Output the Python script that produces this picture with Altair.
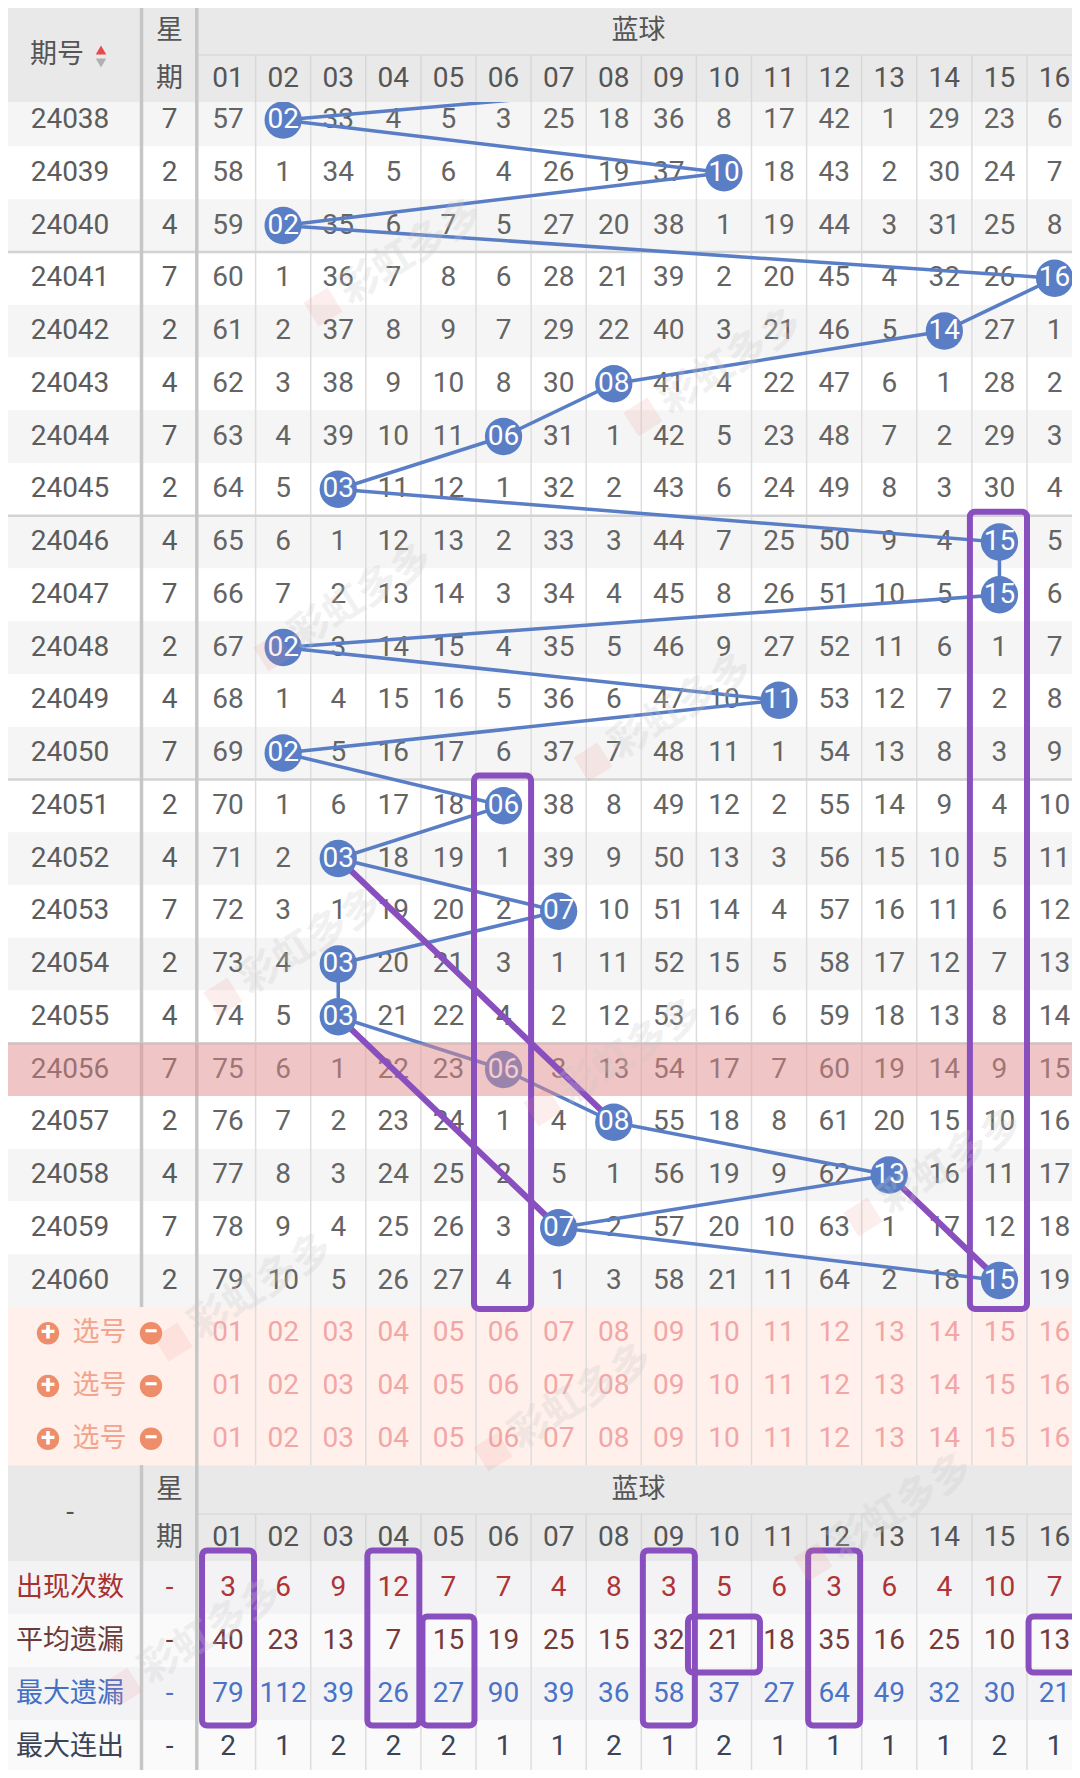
import altair as alt
import pandas as pd

# ---------------- data ----------------
periods = ["24038", "24039", "24040", "24041", "24042", "24043", "24044", "24045",
           "24046", "24047", "24048", "24049", "24050", "24051", "24052", "24053",
           "24054", "24055", "24056", "24057", "24058", "24059", "24060"]
weekdays = [7, 2, 4, 7, 2, 4, 7, 2, 4, 7, 2, 4, 7, 2, 4, 7, 2, 4, 7, 2, 4, 7, 2]
winners = [2, 10, 2, 16, 14, 8, 6, 3, 15, 15, 2, 11, 2, 6, 3, 7, 3, 3, 6, 8, 13, 7, 15]
previous_winner = 13  # draw before 24038 (line enters from above)
# omission table, 0 = the drawn number of that period
omission = [
    [57, 0, 33, 4, 5, 3, 25, 18, 36, 8, 17, 42, 1, 29, 23, 6],
    [58, 1, 34, 5, 6, 4, 26, 19, 37, 0, 18, 43, 2, 30, 24, 7],
    [59, 0, 35, 6, 7, 5, 27, 20, 38, 1, 19, 44, 3, 31, 25, 8],
    [60, 1, 36, 7, 8, 6, 28, 21, 39, 2, 20, 45, 4, 32, 26, 0],
    [61, 2, 37, 8, 9, 7, 29, 22, 40, 3, 21, 46, 5, 0, 27, 1],
    [62, 3, 38, 9, 10, 8, 30, 0, 41, 4, 22, 47, 6, 1, 28, 2],
    [63, 4, 39, 10, 11, 0, 31, 1, 42, 5, 23, 48, 7, 2, 29, 3],
    [64, 5, 0, 11, 12, 1, 32, 2, 43, 6, 24, 49, 8, 3, 30, 4],
    [65, 6, 1, 12, 13, 2, 33, 3, 44, 7, 25, 50, 9, 4, 0, 5],
    [66, 7, 2, 13, 14, 3, 34, 4, 45, 8, 26, 51, 10, 5, 0, 6],
    [67, 0, 3, 14, 15, 4, 35, 5, 46, 9, 27, 52, 11, 6, 1, 7],
    [68, 1, 4, 15, 16, 5, 36, 6, 47, 10, 0, 53, 12, 7, 2, 8],
    [69, 0, 5, 16, 17, 6, 37, 7, 48, 11, 1, 54, 13, 8, 3, 9],
    [70, 1, 6, 17, 18, 0, 38, 8, 49, 12, 2, 55, 14, 9, 4, 10],
    [71, 2, 0, 18, 19, 1, 39, 9, 50, 13, 3, 56, 15, 10, 5, 11],
    [72, 3, 1, 19, 20, 2, 0, 10, 51, 14, 4, 57, 16, 11, 6, 12],
    [73, 4, 0, 20, 21, 3, 1, 11, 52, 15, 5, 58, 17, 12, 7, 13],
    [74, 5, 0, 21, 22, 4, 2, 12, 53, 16, 6, 59, 18, 13, 8, 14],
    [75, 6, 1, 22, 23, 0, 3, 13, 54, 17, 7, 60, 19, 14, 9, 15],
    [76, 7, 2, 23, 24, 1, 4, 0, 55, 18, 8, 61, 20, 15, 10, 16],
    [77, 8, 3, 24, 25, 2, 5, 1, 56, 19, 9, 62, 0, 16, 11, 17],
    [78, 9, 4, 25, 26, 3, 0, 2, 57, 20, 10, 63, 1, 17, 12, 18],
    [79, 10, 5, 26, 27, 4, 1, 3, 58, 21, 11, 64, 2, 18, 0, 19],
]
ball_labels = ["01", "02", "03", "04", "05", "06", "07", "08",
               "09", "10", "11", "12", "13", "14", "15", "16"]
stat_labels = ["出现次数", "平均遗漏", "最大遗漏", "最大连出"]
appear_count = [3, 6, 9, 12, 7, 7, 4, 8, 3, 5, 6, 3, 6, 4, 10, 7]
avg_omission = [40, 23, 13, 7, 15, 19, 25, 15, 32, 21, 18, 35, 16, 25, 10, 13]
max_omission = [79, 112, 39, 26, 27, 90, 39, 36, 58, 37, 27, 64, 49, 32, 30, 21]
max_streak = [2, 1, 2, 2, 2, 1, 1, 2, 1, 2, 1, 1, 1, 1, 2, 1]
highlight_period = "24056"
select_rows = 3

# purple hand annotations: (column, first period, last period)
main_boxes = [(15, "24046", "24060"), (6, "24051", "24060")]
links = [("24052", 3, "24057", 8), ("24055", 3, "24059", 7), ("24058", 13, "24060", 15)]
# (column, first stat row, last stat row)
stat_boxes = [(1, 0, 2), (4, 0, 2), (5, 1, 2), (9, 0, 2), (10, 1, 1), (12, 0, 2), (16, 1, 1)]

# ---------------- layout (page pixels) ----------------
W, H = 1064, 1762
OX, OY = 8, 8
FONT = "Roboto, 'Noto Sans CJK SC', sans-serif"
BLUE = "#5a7ec6"
PURPLE = "#8a4fbe"
GRID = "#dddddd"
SEP = "#c6c6c6"
COL_X0, COL_W = 200.5, 55.1
RIGHT = 1082
PERIOD_X, WEEK_X = 70, 169.5
SEP1, SEP2 = 141.5, 196.8
HEAD_TOP, HEAD_MID, HEAD_BOT = 7, 55, 102
ROW_Y0, ROW_H = 120, 52.75
ST_Y0, ST_H = 1587.5, 53


def cx(k):
    return COL_X0 + COL_W * (k - 0.5)


def cl(k):
    return COL_X0 + COL_W * (k - 1)


def ry(i):
    return ROW_Y0 + ROW_H * i


def sy(j):
    return ST_Y0 + ST_H * j


n = len(periods)
pidx = {p: i for i, p in enumerate(periods)}
DATA_END = ry(n - 1) + ROW_H / 2
SEL_END = ry(n - 1 + select_rows) + ROW_H / 2
BH_TOP, BH_MID, BH_BOT = SEL_END, 1514, 1561
END = sy(3) + ST_H / 2

XS = alt.Scale(domain=[OX, OX + W], range=[0, W], nice=False, zero=False)
YS = alt.Scale(domain=[OY, OY + H], range=[0, H], nice=False, zero=False)


def X(f="x"):
    return alt.X(f"{f}:Q", scale=XS, axis=None)


def Y(f="y"):
    return alt.Y(f"{f}:Q", scale=YS, axis=None)


def rect_layer(rows, **kw):
    return alt.Chart(pd.DataFrame(rows)).mark_rect(**kw).encode(
        x=X(), x2=alt.X2("x2:Q"), y=Y(), y2=alt.Y2("y2:Q"),
        fill=alt.Fill("fill:N", scale=None))


def rule_layer(rows, **kw):
    return alt.Chart(pd.DataFrame(rows)).mark_rule(**kw).encode(
        x=X(), x2=alt.X2("x2:Q"), y=Y(), y2=alt.Y2("y2:Q"),
        color=alt.Color("color:N", scale=None),
        strokeWidth=alt.StrokeWidth("w:Q", scale=None))


def text_layer(rows, **kw):
    df = pd.DataFrame(rows)
    df["t"] = df["t"].astype(str)
    return alt.Chart(df).mark_text(font=FONT, baseline="middle", align="center", **kw).encode(
        x=X(), y=Y(), text="t:N",
        color=alt.Color("color:N", scale=None),
        size=alt.Size("s:Q", scale=None))


def rr(x, x2, y, y2, fill):
    return dict(x=x, x2=x2, y=y, y2=y2, fill=fill)


def ln(x, x2, y, y2, color, w):
    return dict(x=x, x2=x2, y=y, y2=y2, color=color, w=w)


def tx(x, y, t, color, s):
    return dict(x=x, y=y, t=t, color=color, s=s)


# ---- body backgrounds
body_bg = []
for i in range(n):
    y0 = max(ry(i) - ROW_H / 2, HEAD_BOT)
    body_bg.append(rr(0, RIGHT, y0, ry(i) + ROW_H / 2, "#f5f5f5" if i % 2 == 0 else "#ffffff"))
body_bg.append(rr(0, RIGHT, DATA_END, SEL_END, "#fff0eb"))
for j in range(4):
    body_bg.append(rr(0, RIGHT, sy(j) - ST_H / 2, sy(j) + ST_H / 2, "#f3f3f6" if j % 2 == 0 else "#fafafb"))

# ---- body grid
body_lines = []
for k in range(2, 17):
    body_lines.append(ln(cl(k), cl(k), HEAD_BOT, BH_TOP, GRID, 1.5))
    body_lines.append(ln(cl(k), cl(k), BH_BOT, END, GRID, 1.5))
for i in range(n - 1):
    if periods[i + 1][-1] in "16":
        yb = ry(i) + ROW_H / 2
        body_lines.append(ln(0, RIGHT, yb, yb, "#d3d3d3", 2.5))
body_lines.append(ln(SEP1, SEP1, HEAD_BOT, DATA_END, SEP, 3.5))
body_lines.append(ln(SEP1, SEP1, BH_BOT, END, SEP, 3.5))
body_lines.append(ln(SEP2, SEP2, HEAD_BOT, END, SEP, 3.5))

# ---- body text
body_txt = []
for i, p in enumerate(periods):
    body_txt.append(tx(PERIOD_X, ry(i), p, "#5c5c5c", 28))
    body_txt.append(tx(WEEK_X, ry(i), weekdays[i], "#5c5c5c", 28))
    for k in range(1, 17):
        v = omission[i][k - 1]
        if v != 0:
            body_txt.append(tx(cx(k), ry(i), v, "#646464", 28))
sel_txt = []
sel_icons = []
for s in range(select_rows):
    yy = ry(n + s)
    sel_txt.append(tx(99.5, yy, "选号", "#f2a48e", 27))
    sel_icons.append(dict(x=48, y=yy, t="+"))
    sel_icons.append(dict(x=151, y=yy, t="−"))
    for k in range(1, 17):
        sel_txt.append(tx(cx(k), yy, ball_labels[k - 1], "#f2a6a6", 28))
stat_colors = [("#a8302f", "#b03434"), ("#6b3a3a", "#763a3a"), ("#4470c4", "#4a72c6"), ("#3a4456", "#3a4456")]
stat_values = [appear_count, avg_omission, max_omission, max_streak]
for j in range(4):
    lc, vc = stat_colors[j]
    body_txt.append(tx(PERIOD_X, sy(j), stat_labels[j], lc, 27))
    body_txt.append(tx(WEEK_X, sy(j), "-", vc, 28))
    for k in range(1, 17):
        body_txt.append(tx(cx(k), sy(j), stat_values[j][k - 1], vc, 28))

# ---- draw path
path = [dict(x=cx(previous_winner), y=ry(-1), i=-1)]
for i, w in enumerate(winners):
    path.append(dict(x=cx(w), y=ry(i), i=i))
hi = pidx[highlight_period]
balls_hi = [dict(x=cx(winners[hi]), y=ry(hi), t=ball_labels[winners[hi] - 1])]
balls = [dict(x=cx(w), y=ry(i), t=ball_labels[w - 1]) for i, w in enumerate(winners) if i != hi]
overlay = [rr(0, RIGHT, ry(hi) - ROW_H / 2, ry(hi) + ROW_H / 2, "#eb8c8c")]

# ---- purple annotations
purple_lines = [ln(cx(c1), cx(c2), ry(pidx[p1]), ry(pidx[p2]), PURPLE, 6) for p1, c1, p2, c2 in links]
boxes = []
for c, p1, p2 in main_boxes:
    boxes.append(dict(x=cl(c) - 2, x2=cl(c + 1), y=ry(pidx[p1]) - ROW_H / 2 - 4, y2=DATA_END + 2))
wide = {10: 36}
for c, r0, r1 in stat_boxes:
    half = wide.get(c, 26)
    boxes.append(dict(x=cx(c) - half, x2=cx(c) + half,
                      y=sy(r0) - (37 if r0 == 0 else 24), y2=sy(r1) + 32))

# ---- headers
head_bg = [rr(0, RIGHT, HEAD_TOP, HEAD_BOT, "#e9e9e9"), rr(0, RIGHT, BH_TOP, BH_BOT, "#e9e9e9")]
head_lines = []
for k in range(2, 17):
    head_lines.append(ln(cl(k), cl(k), HEAD_MID, HEAD_BOT, "#d8d8d8", 1.5))
    head_lines.append(ln(cl(k), cl(k), BH_MID, BH_BOT, "#d8d8d8", 1.5))
head_lines.append(ln(SEP2, RIGHT, HEAD_MID, HEAD_MID, "#dadada", 1.5))
head_lines.append(ln(SEP2, RIGHT, BH_MID, BH_MID, "#dadada", 1.5))
for top, bot in ((HEAD_TOP, HEAD_BOT), (BH_TOP, BH_BOT)):
    head_lines.append(ln(SEP1, SEP1, top, bot, SEP, 3.5))
    head_lines.append(ln(SEP2, SEP2, top, bot, SEP, 3.5))
HC = "#555555"
head_txt = [
    tx(57, (HEAD_TOP + HEAD_BOT) / 2, "期号", HC, 27),
    tx(WEEK_X, (HEAD_TOP + HEAD_MID) / 2, "星", HC, 27),
    tx(WEEK_X, (HEAD_MID + HEAD_BOT) / 2, "期", HC, 27),
    tx((SEP2 + 1080) / 2, (HEAD_TOP + HEAD_MID) / 2, "蓝球", HC, 27),
    tx(PERIOD_X, (BH_TOP + BH_BOT) / 2, "-", HC, 28),
    tx(WEEK_X, (BH_TOP + BH_MID) / 2, "星", HC, 27),
    tx(WEEK_X, (BH_MID + BH_BOT) / 2, "期", HC, 27),
    tx((SEP2 + 1080) / 2, (BH_TOP + BH_MID) / 2, "蓝球", HC, 27),
]
for k in range(1, 17):
    head_txt.append(tx(cx(k), (HEAD_MID + HEAD_BOT) / 2, ball_labels[k - 1], HC, 28))
    head_txt.append(tx(cx(k), (BH_MID + BH_BOT) / 2, ball_labels[k - 1], HC, 28))
sort_marks = [dict(x=101, y=50, shape="triangle-up", color="#e84848"),
              dict(x=101, y=63, shape="triangle-down", color="#b0b0b0")]

# ---- watermark tiling (kept fully inside the page)
marks_wm = []
for m in range(-2, 6):
    for q in range(-1, 6):
        x = 91 + 320 * m - 50 * q
        y = 142 + 110 * m + 345 * q
        if 110 < x < 960 and 90 < y < 1690:
            marks_wm.append(dict(x=x, y=y, t="彩虹多多", lx=x - 88, ly=y + 55))
wm_df = pd.DataFrame(marks_wm)

# ---------------- layers ----------------
layers = [
    rect_layer(body_bg),
    rule_layer(body_lines),
    text_layer(body_txt),
    text_layer(sel_txt),
    alt.Chart(pd.DataFrame(sel_icons)).mark_circle(size=500, color="#ee8d6a", opacity=1).encode(x=X(), y=Y()),
    alt.Chart(pd.DataFrame(sel_icons)).mark_text(font=FONT, fontSize=26, fontWeight="bold", color="#ffffff",
                                                 baseline="middle", align="center", dy=-1).encode(
        x=X(), y=Y(), text="t:N"),
    alt.Chart(pd.DataFrame(path)).mark_line(color=BLUE, strokeWidth=3.5).encode(x=X(), y=Y(), order="i:Q"),
    alt.Chart(pd.DataFrame(balls_hi)).mark_circle(size=1390, color=BLUE, opacity=1).encode(x=X(), y=Y()),
    alt.Chart(pd.DataFrame(balls_hi)).mark_text(font=FONT, fontSize=28, color="#ffffff",
                                                baseline="middle", align="center").encode(x=X(), y=Y(), text="t:N"),
    rect_layer(overlay, opacity=0.45),
    rule_layer(purple_lines, strokeCap="round"),
    alt.Chart(pd.DataFrame(balls)).mark_circle(size=1390, color=BLUE, opacity=1).encode(x=X(), y=Y()),
    alt.Chart(pd.DataFrame(balls)).mark_text(font=FONT, fontSize=28, color="#ffffff",
                                             baseline="middle", align="center").encode(x=X(), y=Y(), text="t:N"),
    rect_layer(head_bg),
    rule_layer(head_lines),
    text_layer(head_txt),
    alt.Chart(pd.DataFrame(sort_marks)).mark_point(filled=True, size=110, opacity=1).encode(
        x=X(), y=Y(), shape=alt.Shape("shape:N", scale=None), color=alt.Color("color:N", scale=None)),
    alt.Chart(pd.DataFrame(boxes)).mark_rect(fillOpacity=0, stroke=PURPLE, strokeWidth=6, cornerRadius=5).encode(
        x=X(), x2=alt.X2("x2:Q"), y=Y(), y2=alt.Y2("y2:Q")),
    alt.Chart(wm_df).mark_point(shape="square", filled=True, size=800, color="#f08a8a", opacity=0.15, angle=328).encode(
        x=X("lx"), y=Y("ly")),
    alt.Chart(wm_df).mark_text(font=FONT, fontSize=40, fontWeight="bold", color="#c8c8c8", opacity=0.25, angle=328,
                               baseline="middle", align="center").encode(x=X(), y=Y(), text="t:N"),
]

chart = alt.layer(*layers).properties(
    width=W, height=H, autosize=alt.AutoSizeParams(type="none"), padding=0, background="#ffffff"
).configure_view(strokeWidth=0)

chart.save("out.html", embed_options={"renderer": "svg", "actions": False})
